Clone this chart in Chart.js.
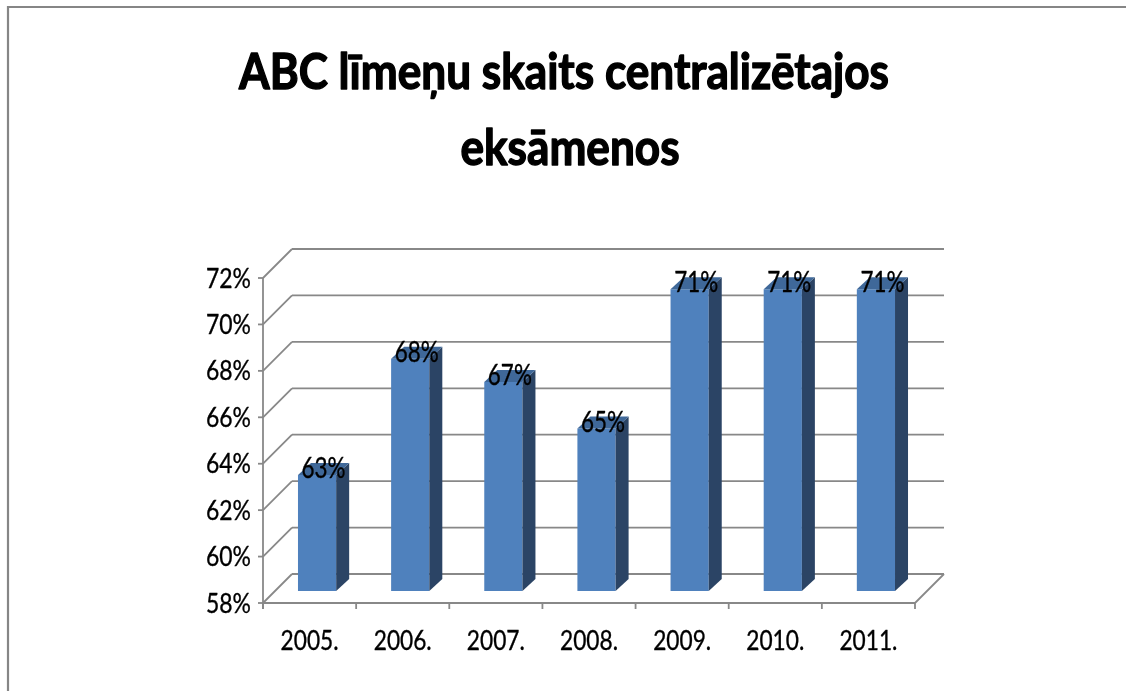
<!DOCTYPE html>
<html>
<head>
<meta charset="utf-8">
<style>
  html, body { margin: 0; padding: 0; background: #ffffff; }
  #wrap { position: relative; width: 1126px; height: 691px; }
  canvas { display: block; }
</style>
<script src="https://cdn.jsdelivr.net/npm/chart.js@4.4.1/dist/chart.umd.min.js"></script>
</head>
<body>
<div id="wrap"><canvas id="c" width="1126" height="691"></canvas></div>
<script>
// ---- data ----
const titleLines = ['ABC līmeņu skaits centralizētajos', 'eksāmenos'];
const categories = ['2005.', '2006.', '2007.', '2008.', '2009.', '2010.', '2011.'];
const values = [63, 68, 67, 65, 71, 71, 71];
const yTicks = [58, 60, 62, 64, 66, 68, 70, 72];
const yMin = 58;
const yMax = 72;

// ---- style ----
const FONT = 'Lato, "Open Sans", "Noto Sans", sans-serif';
const GRID = '#888888';
const WALL_DX = 29, WALL_DY = -29;     // depth of the 3D box
const BAR_DX = 7.5, BAR_DY = -12;      // position of bar front face within depth
const BAR_DEPTH_X = 13, BAR_DEPTH_Y = -12;
const FRONT = '#4F81BD', SIDE = '#2B4465', TOP = '#3F6899';

function condensedText(ctx, text, x, y, font, sx, align, weight) {
  ctx.save();
  ctx.font = font;
  ctx.textAlign = align;
  ctx.textBaseline = 'alphabetic';
  ctx.fillStyle = '#000000';
  ctx.strokeStyle = '#000000';
  ctx.lineJoin = 'round';
  ctx.translate(x, y);
  ctx.scale(sx, 1);
  ctx.fillText(text, 0, 0);
  if (weight) {
    ctx.lineWidth = weight;
    ctx.strokeText(text, 0, 0);
  }
  ctx.restore();
}
function fitScale(ctx, text, font, target) {
  ctx.save();
  ctx.font = font;
  const w = ctx.measureText(text).width;
  ctx.restore();
  return w > 0 ? target / w : 1;
}
function line(ctx, x1, y1, x2, y2) {
  ctx.beginPath();
  ctx.moveTo(x1, y1);
  ctx.lineTo(x2, y2);
  ctx.stroke();
}

const excel3d = {
  id: 'excel3d',
  beforeDraw(chart) {
    const ctx = chart.ctx;
    ctx.save();
    ctx.fillStyle = '#ffffff';
    ctx.fillRect(0, 0, chart.width, chart.height);
    // outer chart border (left + top)
    ctx.strokeStyle = '#868686';
    ctx.lineWidth = 2.2;
    ctx.beginPath();
    ctx.moveTo(8, chart.height + 2);
    ctx.lineTo(8, 7);
    ctx.lineTo(chart.width + 2, 7);
    ctx.stroke();
    ctx.restore();
    // title
    const tFont = 'bold 49px ' + FONT;
    const sx = fitScale(ctx, titleLines[0], tFont, 650);
    condensedText(ctx, titleLines[0], 564, 89, tFont, sx, 'center', 1.4);
    condensedText(ctx, titleLines[1], 570, 165, tFont, sx, 'center', 1.4);
  },
  beforeDatasetsDraw(chart) {
    const ctx = chart.ctx;
    const xs = chart.scales.x, ys = chart.scales.y;
    const L = chart.chartArea.left, R = chart.chartArea.right;
    const B = ys.getPixelForValue(yMin);
    ctx.save();
    ctx.strokeStyle = GRID;
    ctx.lineWidth = 1.8;
    ctx.lineCap = 'butt';
    // back wall gridlines and left wall diagonals
    yTicks.forEach(v => {
      const y = ys.getPixelForValue(v);
      line(ctx, L + WALL_DX, y + WALL_DY, R + WALL_DX, y + WALL_DY);
      line(ctx, L, y, L + WALL_DX, y + WALL_DY);
      line(ctx, L - 5, y, L, y); // tick mark
    });
    // front vertical axis
    line(ctx, L, ys.getPixelForValue(yMax), L, B + 6);
    // floor front edge and right edge
    line(ctx, L, B, R, B);
    line(ctx, R, B, R + WALL_DX, B + WALL_DY);
    // category ticks
    const n = categories.length;
    for (let i = 0; i <= n; i++) {
      const x = L + (R - L) * i / n;
      line(ctx, x, B, x, B + 6);
    }
    ctx.restore();

    // y tick labels
    const yFont = '27px ' + FONT;
    const ysx = fitScale(ctx, '64%', yFont, 45);
    yTicks.forEach(v => {
      const y = ys.getPixelForValue(v);
      condensedText(ctx, v + '%', L - 12, y + 9.5, yFont, ysx, 'right', 0.35);
    });
    // x labels
    const xFont = '27px ' + FONT;
    const xsx = fitScale(ctx, '2005.', xFont, 58);
    categories.forEach((c, i) => {
      condensedText(ctx, c, xs.getPixelForValue(i), B + 47, xFont, xsx, 'center', 0.35);
    });

    // shift bars to their depth position
    ctx.save();
    ctx.translate(BAR_DX, BAR_DY);
  },
  afterDatasetsDraw(chart) {
    const ctx = chart.ctx;
    const meta = chart.getDatasetMeta(0);
    meta.data.forEach(bar => {
      const p = bar.getProps(['x', 'y', 'base', 'width'], true);
      const l = p.x - p.width / 2, r = p.x + p.width / 2;
      // side face
      ctx.fillStyle = SIDE;
      ctx.beginPath();
      ctx.moveTo(r, p.y);
      ctx.lineTo(r + BAR_DEPTH_X, p.y + BAR_DEPTH_Y);
      ctx.lineTo(r + BAR_DEPTH_X, p.base + BAR_DEPTH_Y);
      ctx.lineTo(r, p.base);
      ctx.closePath();
      ctx.fill();
      // top face
      ctx.fillStyle = TOP;
      ctx.beginPath();
      ctx.moveTo(l, p.y);
      ctx.lineTo(r, p.y);
      ctx.lineTo(r + BAR_DEPTH_X, p.y + BAR_DEPTH_Y);
      ctx.lineTo(l + BAR_DEPTH_X, p.y + BAR_DEPTH_Y);
      ctx.closePath();
      ctx.fill();
    });
    ctx.restore();
    // data labels
    const dFont = '28px ' + FONT;
    const dsx = fitScale(ctx, '63%', dFont, 44);
    meta.data.forEach((bar, i) => {
      const p = bar.getProps(['x', 'y'], true);
      condensedText(ctx, values[i] + '%', p.x + BAR_DX + BAR_DEPTH_X / 2, p.y + BAR_DY + 3, dFont, dsx, 'center', 0.35);
    });
  }
};

new Chart(document.getElementById('c'), {
  type: 'bar',
  data: {
    labels: categories,
    datasets: [{
      data: values,
      base: yMin,
      backgroundColor: FRONT,
      borderWidth: 0,
      barPercentage: 0.41,
      categoryPercentage: 1,
      clip: false
    }]
  },
  options: {
    responsive: false,
    animation: false,
    devicePixelRatio: 1,
    layout: { padding: { left: 263, right: 211, top: 278, bottom: 88 } },
    plugins: {
      legend: { display: false },
      title: { display: false },
      tooltip: { enabled: false }
    },
    scales: {
      x: { display: false, offset: true },
      y: { display: false, min: yMin, max: yMax }
    }
  },
  plugins: [excel3d]
});
</script>
</body>
</html>
